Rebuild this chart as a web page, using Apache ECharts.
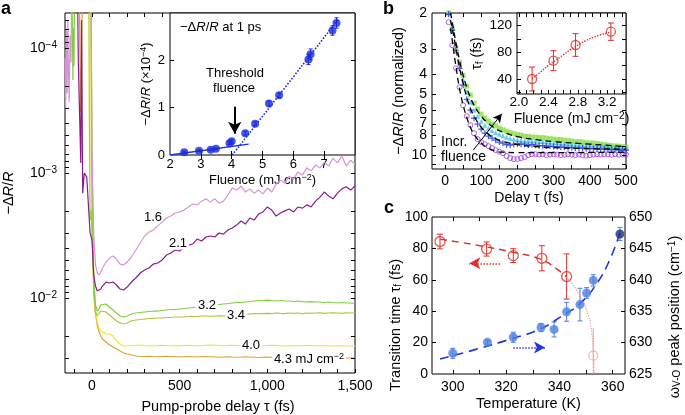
<!DOCTYPE html>
<html lang="en">
<head>
<meta charset="UTF-8">
<title>Ultrafast reflectivity panels</title>
<script src="https://cdn.jsdelivr.net/npm/echarts@6/dist/echarts.min.js"></script>
<style>
    html, body { margin: 0; padding: 0; background: #fff; }
    #chart { width: 685px; height: 415px; }
</style>
</head>
<body>
<div id="chart"></div>
<script type="text/javascript">
var FONT = 'Liberation Sans';

// ---- panel a : -dR/R vs pump-probe delay (fs), one trace per fluence ----
var delayFs = [0, 10, 20, 30, 40, 50, 60, 80, 100, 120, 140, 160, 180, 200,
    225, 250, 275, 300, 325, 350, 375, 400, 425, 450, 475, 500, 525, 550, 575, 600,
    625, 650, 675, 700, 725, 750, 775, 800, 825, 850, 875, 900, 925, 950, 975, 1000,
    1025, 1050, 1075, 1100, 1125, 1150, 1175, 1200, 1225, 1250, 1275, 1300, 1325, 1350,
    1375, 1400, 1425, 1450, 1475, 1500];
var trace16 = [0.00065, 0.00313, 0.00545, 0.00631, 0.00655, 0.00619, 0.00575, 0.00515, 0.00479, 0.00461, 0.00488, 0.00535, 0.00545, 0.00515,
    0.00470, 0.00413, 0.00363, 0.00319, 0.00297, 0.00286, 0.00265, 0.00247, 0.00229, 0.00221, 0.00209, 0.00205, 0.00198, 0.00187, 0.00177, 0.00180,
    0.00168, 0.00161, 0.00171, 0.00161, 0.00174, 0.00168, 0.00150, 0.00132, 0.00137, 0.00127, 0.00142, 0.00134, 0.00145, 0.00137, 0.00147, 0.00132,
    0.00142, 0.00123, 0.00114, 0.00120, 0.00106, 0.00112, 0.00098, 0.00104, 0.00091, 0.00096, 0.00086, 0.00091, 0.00082, 0.00088,
    0.00076, 0.00083, 0.00073, 0.00088, 0.00079, 0.00085];
var trace21 = [0.00344, 0.00655, 0.00802, 0.00879, 0.00895, 0.00847, 0.00802, 0.00745, 0.00759, 0.00745, 0.00787, 0.00847, 0.00863, 0.00817,
    0.00745, 0.00692, 0.00631, 0.00597, 0.00575, 0.00535, 0.00525, 0.00497, 0.00453, 0.00437, 0.00413, 0.00421, 0.00391, 0.00377, 0.00370, 0.00337,
    0.00350, 0.00325, 0.00319, 0.00325, 0.00302, 0.00308, 0.00286, 0.00275, 0.00261, 0.00242, 0.00256, 0.00229, 0.00238, 0.00213, 0.00205, 0.00187,
    0.00198, 0.00221, 0.00209, 0.00201, 0.00194, 0.00205, 0.00187, 0.00191, 0.00180, 0.00187, 0.00168, 0.00156, 0.00142, 0.00153,
    0.00161, 0.00145, 0.00134, 0.00129, 0.00137, 0.00127];
var trace32 = [0.00114, 0.00718, 0.01138, 0.01271, 0.01225, 0.01138, 0.01117, 0.01117, 0.01180, 0.01247, 0.01318, 0.01393, 0.01419, 0.01393,
    0.01343, 0.01318, 0.01306, 0.01294, 0.01282, 0.01271, 0.01271, 0.01259, 0.01247, 0.01236, 0.01236, 0.01225, 0.01213, 0.01202, 0.01191, 0.01180,
    0.01170, 0.01159, 0.01148, 0.01138, 0.01127, 0.01117, 0.01107, 0.01096, 0.01086, 0.01086, 0.01076, 0.01067, 0.01057, 0.01047, 0.01047, 0.01038,
    0.01047, 0.01057, 0.01047, 0.01057, 0.01057, 0.01067, 0.01057, 0.01067, 0.01076, 0.01067, 0.01076, 0.01076, 0.01086, 0.01076,
    0.01086, 0.01096, 0.01086, 0.01096, 0.01096, 0.01107];
var trace34 = [0.0028, 0.00787, 0.01294, 0.01393, 0.01343, 0.01271, 0.01247, 0.01294, 0.01368, 0.01445, 0.01528, 0.01585, 0.01614, 0.01585,
    0.01528, 0.01500, 0.01486, 0.01472, 0.01459, 0.01459, 0.01445, 0.01445, 0.01432, 0.01432, 0.01419, 0.01419, 0.01419, 0.01406, 0.01406, 0.01406,
    0.01393, 0.01393, 0.01400, 0.01393, 0.01387, 0.01393, 0.01380, 0.01368, 0.01368, 0.01355, 0.01343, 0.01343, 0.01331, 0.01337, 0.01331, 0.01325,
    0.01331, 0.01318, 0.01325, 0.01331, 0.01318, 0.01325, 0.01318, 0.01331, 0.01318, 0.01325, 0.01318, 0.01312, 0.01325, 0.01318,
    0.01312, 0.01318, 0.01325, 0.01312, 0.01318, 0.01312];
var trace40 = [0.00217, 0.00787, 0.01247, 0.01556, 0.01738, 0.01837, 0.01905, 0.01941, 0.01941, 0.02014, 0.02208, 0.02333, 0.02421, 0.02421,
    0.02399, 0.02399, 0.02377, 0.02399, 0.02410, 0.02421, 0.02399, 0.02388, 0.02399, 0.02410, 0.02421, 0.02410, 0.02399, 0.02388, 0.02399, 0.02410,
    0.02399, 0.02388, 0.02377, 0.02388, 0.02399, 0.02410, 0.02399, 0.02388, 0.02399, 0.02410, 0.02421, 0.02410, 0.02399, 0.02399, 0.02410, 0.02399,
    0.02388, 0.02399, 0.02410, 0.02421, 0.02410, 0.02399, 0.02410, 0.02399, 0.02388, 0.02399, 0.02410, 0.02410, 0.02399, 0.02410,
    0.02421, 0.02410, 0.02410, 0.02421, 0.02410, 0.02410];
var trace43 = [0.00261, 0.00946, 0.01343, 0.01644, 0.01871, 0.02014, 0.02128, 0.02249, 0.02377, 0.02466, 0.02559, 0.02655, 0.02754, 0.02805,
    0.02858, 0.02911, 0.02938, 0.02938, 0.02924, 0.02938, 0.02951, 0.02938, 0.02924, 0.02938, 0.02951, 0.02965, 0.02951, 0.02938, 0.02951, 0.02965,
    0.02951, 0.02938, 0.02951, 0.02965, 0.02978, 0.02965, 0.02951, 0.02965, 0.02978, 0.02965, 0.02951, 0.02965, 0.02978, 0.02992, 0.02978, 0.02965,
    0.02978, 0.02992, 0.02978, 0.02992, 0.03006, 0.02992, 0.02978, 0.02992, 0.03006, 0.02992, 0.03006, 0.03020, 0.03006, 0.02992,
    0.03006, 0.03020, 0.03006, 0.03020, 0.03020, 0.03020];
// noisy part before time zero, [delay, value]
var pre16 = [[-154, 1.2e-4], [-150, 3.0e-4], [-146, 7e-5], [-142, 2.3e-4], [-138, 6e-5], [-134, 1.6e-4], [-130, 2.7e-4], [-125, 8e-5], [-120, 1.3e-4], [-116, 4e-5], [-5, 4e-5]];
var pre21 = [[-154, 4e-5], [-82, 4e-5], [-78, 1.3e-4], [-64, 8.3e-4], [-60, 6e-5], [-53, 1.45e-3], [-44, 1.0e-3], [-30, 1.08e-3], [-11, 3.0e-3]];
var pre32 = [[-154, 4e-5], [-115, 4e-5], [-112, 6.5e-5], [-109, 1.8e-4], [-106, 7e-5], [-103, 1.4e-4], [-100, 4e-5], [-5, 4e-5]];
var pre34 = [[-154, 4e-5], [-18, 4e-5], [-15, 3.7e-4], [-11, 2.4e-3], [-5, 2.0e-3]];
var pre40 = [[-154, 4e-5], [-8, 4e-5], [-5, 6.5e-4], [-2, 1.5e-3]];
var pre43 = [[-154, 4e-5], [-72, 4e-5], [-69, 1.04e-4], [-65, 3.25e-4], [-62, 1.5e-4], [-59, 3.0e-4], [-56, 4e-5], [-5, 4e-5]];

// inset a : -dR/R at 1 ps (x1e-4) vs fluence
var fluenceA = [2.46, 2.94, 3.32, 3.49, 3.93, 4.00, 4.44, 4.76, 5.21, 5.54, 6.49, 6.56, 7.27, 7.40];
var signalA = [0.06, 0.09, 0.11, 0.13, 0.25, 0.29, 0.46, 0.66, 1.09, 1.26, 2.02, 2.13, 2.63, 2.79];
var signalErrA = [0.02, 0.02, 0.02, 0.02, 0.03, 0.03, 0.04, 0.04, 0.05, 0.05, 0.11, 0.11, 0.10, 0.11];
var belowFitA = [[2.0, 0.0], [4.55, 0.23]];
var aboveFitA = [[4.02, 0.0], [7.45, 2.86]];

// ---- panel b : normalized traces ----
var bDelay = [10, 20, 30, 40, 50, 60, 70, 80, 90, 100, 110, 120, 130, 140, 150, 160, 170, 180, 190, 200,
    210, 220, 230, 240, 250, 260, 270, 280, 290, 300, 310, 320, 330, 340, 350, 360, 370, 380, 390, 400,
    410, 420, 430, 440, 450, 460, 470, 480, 490, 500];
var bViolet = [2.22, 2.88, 3.74, 4.64, 5.68, 6.43, 7.12, 7.80, 8.34, 8.63, 8.83, 9.03, 9.24, 9.45, 9.61, 9.78, 10.11, 10.34, 10.46, 10.46,
    10.34, 10.23, 10.0, 9.89, 9.89, 9.94, 9.89, 10.0, 9.94, 9.89, 9.94, 10.0, 9.94, 9.89, 9.94, 10.0, 9.94, 10.0, 10.06, 10.0,
    9.94, 9.89, 9.94, 9.89, 9.89, 9.94, 9.89, 9.94, 9.94, 9.94];
var bBlue = [2.03, 2.43, 3.05, 3.74, 4.53, 5.31, 6.01, 6.58, 7.04, 7.45, 7.80, 8.07, 8.25, 8.44, 8.63, 8.73, 8.88, 8.93, 8.83, 8.78,
    8.83, 8.83, 8.93, 8.88, 8.93, 8.98, 8.98, 9.03, 9.03, 9.08, 9.08, 9.13, 9.13, 9.19, 9.19, 9.24, 9.24, 9.24, 9.29, 9.29,
    9.29, 9.34, 9.34, 9.34, 9.40, 9.40, 9.40, 9.45, 9.45, 9.45];
var bCyan = [2.0, 2.35, 2.88, 3.53, 4.23, 4.90, 5.49, 6.01, 6.43, 6.81, 7.12, 7.37, 7.58, 7.75, 7.89, 8.02, 8.16, 8.25, 8.34, 8.39,
    8.44, 8.49, 8.49, 8.53, 8.53, 8.58, 8.58, 8.63, 8.63, 8.68, 8.68, 8.73, 8.73, 8.78, 8.83, 8.83, 8.88, 8.88, 8.93, 8.93,
    8.98, 8.98, 9.03, 9.03, 9.08, 9.13, 9.13, 9.19, 9.19, 9.24];
var bGreen = [2.0, 2.38, 2.95, 3.49, 4.05, 4.58, 5.07, 5.55, 5.94, 6.29, 6.58, 6.81, 7.04, 7.20, 7.37, 7.49, 7.62, 7.75, 7.84, 7.93,
    7.98, 8.07, 8.11, 8.16, 8.16, 8.20, 8.20, 8.25, 8.30, 8.34, 8.39, 8.39, 8.44, 8.49, 8.53, 8.58, 8.58, 8.63, 8.68, 8.73,
    8.73, 8.78, 8.83, 8.88, 8.93, 8.98, 9.03, 9.03, 9.08, 9.13];
var bFitDelay = [15, 20, 30, 40, 50, 60, 70, 80, 100, 120, 140, 160, 200, 250, 300, 400, 500];
var bFitHigh = [2.38, 2.72, 3.65, 4.69, 5.68, 6.51, 7.29, 7.89, 8.73, 9.24, 9.56, 9.67, 9.72, 9.72, 9.72, 9.70, 9.67];
var bFitMid = [2.17, 2.38, 2.98, 3.70, 4.43, 5.19, 5.88, 6.43, 7.29, 7.89, 8.30, 8.58, 8.88, 9.08, 9.19, 9.29, 9.34];
var bFitLow = [1.99, 2.22, 2.79, 3.42, 4.05, 4.64, 5.19, 5.68, 6.43, 7.00, 7.41, 7.71, 8.11, 8.39, 8.58, 8.83, 9.08];

// inset b : transition time vs fluence
var fluenceB = [2.18, 2.47, 2.77, 3.25];
var tauB = [40, 67.5, 91, 111];
var tauErrB = [18, 15, 17, 13];
var fitFluenceB = [2.18, 2.3, 2.4, 2.5, 2.6, 2.7, 2.8, 2.9, 3.0, 3.1, 3.2, 3.25];
var fitTauB = [40, 51, 60, 68, 76, 84, 91, 97, 102, 106, 109, 111];

// ---- panel c : transition time and V-O peak vs temperature ----
var tempTau = [295.2, 312.7, 322.7, 333.4, 342.7];
var tauC = [84.4, 79.6, 75.4, 73.7, 62.1];
var tauErrC = [4.7, 4.5, 4.4, 8.0, 14.4];
var tempTauHot = [352.7];
var tauHot = [11.7];
var tauHotLow = [0];
var tauHotHigh = [29.3];
var tempOmega = [300, 313, 322.7, 333.1, 338, 342.7, 347.7, 350.2, 352.7, 362.7];
var omegaC = [628.3, 630.05, 630.85, 632.4, 632.1, 634.9, 636.05, 637.9, 639.9, 647.3];
var omegaErrC = [0.8, 0.3, 0.8, 0.65, 1.2, 1.5, 2.6, 0.85, 0.9, 1.05];
var fitTauT = [295.2, 310.2, 322.7, 332.7, 339, 342.7];
var fitTau = [85.9, 81.7, 77.5, 73.3, 67, 61.7];
var tailTauT = [342.7, 346.5, 350.2, 352.1, 352.7, 353];
var tailTau = [61.7, 53.3, 40.6, 26.9, 12.2, 0];
var fitOmegaT = [295.2, 307.7, 322.7, 332.7, 341.5, 347.7, 354, 359, 362.7];
var fitOmega = [627.4, 628.8, 630.7, 632.15, 634.4, 636.2, 639.4, 643.3, 647.5];

// tick positions on the log axes
var logTicksA = [6e-5, 7e-5, 8e-5, 9e-5, 1e-4, 2e-4, 3e-4, 4e-4, 5e-4, 6e-4, 7e-4, 8e-4, 9e-4,
    1e-3, 2e-3, 3e-3, 4e-3, 5e-3, 6e-3, 7e-3, 8e-3, 9e-3, 1e-2, 2e-2, 3e-2];
var logTicksB = [3, 4, 5, 6, 7, 8, 9, 10, 11];

function range(a, b, step) {
    var out = [];
    for (var v = a; v <= b + 1e-9; v += step) out.push(Math.round(v * 1000) / 1000);
    return out;
}
function zip(xs, ys) {
    return xs.map(function (x, i) { return [x, ys[i]]; });
}

function richFor(fs) {
    var small = Math.round(fs * 0.72);
    return {
        i: {fontStyle: 'italic', fontSize: fs, fontFamily: FONT, color: '#000'},
        sup: {fontSize: small, lineHeight: small, verticalAlign: 'top', fontFamily: FONT, color: '#000'},
        sub: {fontSize: small, lineHeight: small, verticalAlign: 'bottom', fontFamily: FONT, color: '#000'}
    };
}

function grid(l, t, w, h, bg) {
    return {left: l, top: t, width: w, height: h, show: true, borderColor: '#000', borderWidth: 1,
        backgroundColor: bg || 'transparent', containLabel: false, outerBoundsMode: 'none'};
}

function axis(o) {
    var fs = o.fs || 14;
    var nfs = o.nfs || fs;
    var a = {
        type: o.type || 'value',
        gridIndex: o.grid,
        position: o.pos,
        min: o.min,
        max: o.max,
        inverse: !!o.inverse,
        silent: true,
        axisLine: {show: false},
        splitLine: {show: false},
        axisTick: {show: !!o.ticks, inside: true, length: 4, customValues: o.ticks || [], lineStyle: {color: '#000', width: 1}},
        axisLabel: {show: !!o.labels, customValues: o.labels || [], color: '#000', fontFamily: FONT, fontSize: fs,
            lineHeight: fs + 2, margin: o.margin == null ? 5 : o.margin, formatter: o.fmt, rich: richFor(fs)}
    };
    if (o.type === 'log') a.logBase = 10;
    if (o.name) {
        a.name = o.name;
        a.nameLocation = 'middle';
        a.nameGap = o.gap;
        if (o.rotate) a.nameRotate = o.rotate;
        a.nameTextStyle = {color: '#000', fontFamily: FONT, fontSize: nfs, lineHeight: nfs + 2,
            rich: richFor(nfs), padding: o.namePad || 0};
    }
    return a;
}

// short inward tick marks on a log axis, placed through the axis scale
function logTickMarks(xi, yi, xEdge, values, dir) {
    return {
        type: 'custom', xAxisIndex: xi, yAxisIndex: yi, silent: true, clip: false, z: 5,
        data: values.map(function (v) { return [xEdge, v]; }),
        renderItem: function (params, api) {
            var p = api.coord([api.value(0), api.value(1)]);
            var x = Math.round(p[0]), y = Math.round(p[1]) + 0.5;
            return {type: 'line', shape: {x1: x, y1: y, x2: x + dir * 4, y2: y}, style: {stroke: '#000', lineWidth: 1}};
        }
    };
}

function errorBars(xi, yi, xs, lows, highs, color, cap) {
    return {
        type: 'custom', xAxisIndex: xi, yAxisIndex: yi, silent: true, clip: true, z: 3,
        data: xs.map(function (x, i) { return [x, lows[i], highs[i]]; }),
        encode: {x: 0, y: [1, 2]},
        renderItem: function (params, api) {
            var lo = api.coord([api.value(0), api.value(1)]);
            var hi = api.coord([api.value(0), api.value(2)]);
            var st = {stroke: color, lineWidth: 1};
            return {type: 'group', children: [
                {type: 'line', shape: {x1: lo[0], y1: lo[1], x2: hi[0], y2: hi[1]}, style: st},
                {type: 'line', shape: {x1: lo[0] - cap, y1: lo[1], x2: lo[0] + cap, y2: lo[1]}, style: st},
                {type: 'line', shape: {x1: hi[0] - cap, y1: hi[1], x2: hi[0] + cap, y2: hi[1]}, style: st}
            ]};
        }
    };
}
function symErr(xs, ys, errs, color, cap, xi, yi) {
    return errorBars(xi, yi, xs,
        ys.map(function (y, i) { return y - errs[i]; }),
        ys.map(function (y, i) { return y + errs[i]; }), color, cap);
}

function trace(pre, vals, color) {
    return {
        type: 'line', xAxisIndex: 0, yAxisIndex: 0, silent: true, clip: true,
        showSymbol: false, symbol: 'none',
        data: pre.concat(zip(delayFs, vals)),
        lineStyle: {color: color, width: 1.2}
    };
}

function markers(vals, symbol, size, color, filled) {
    return {
        type: 'scatter', xAxisIndex: 4, yAxisIndex: 4, silent: true, clip: true,
        symbol: symbol, symbolSize: size,
        data: zip(bDelay, vals),
        itemStyle: filled ? {color: color} : {color: 'transparent', borderColor: color, borderWidth: 1}
    };
}

function fitLine(xi, yi, data, color, type, width) {
    return {
        type: 'line', xAxisIndex: xi, yAxisIndex: yi, silent: true, clip: true,
        showSymbol: false, symbol: 'none', smooth: true, data: data,
        lineStyle: {color: color, width: width || 1.2, type: type}
    };
}

function arrowLine(from, to, color, width, type, size) {
    return {
        silent: true, symbol: ['none', 'arrow'], symbolSize: size, label: {show: false},
        lineStyle: {color: color, width: width, type: type},
        data: [[{coord: from}, {coord: to}]]
    };
}

function text(x, y, str, fs, opts) {
    opts = opts || {};
    return {
        type: 'text', x: x, y: y, z: 100, silent: true, rotation: opts.rotation || 0,
        style: {
            text: str, fill: '#000', fontFamily: FONT, fontSize: fs, fontWeight: opts.bold ? 'bold' : 'normal',
            align: opts.align || 'left', textAlign: opts.align || 'left',
            verticalAlign: 'middle', textVerticalAlign: 'middle',
            backgroundColor: opts.bg, padding: opts.bg ? [0, 2] : 0,
            rich: richFor(fs)
        }
    };
}

var chart = echarts.init(document.getElementById('chart'));

var pinkA = '#d795d5', purpleA = '#8a1c88', green32 = '#7fcf3b', green34 = '#a9c93a',
    yellow40 = '#efe52c', orange43 = '#dea232', blueA = '#1a2be0';
var red = '#dd3029', redFaint = '#f2a3a3', blueC = '#4d7fe3', navy = '#1a2d80', blueFit = '#2035d8';

var bScatterViolet = markers(bViolet, 'circle', 5, '#9a3be0', false);
bScatterViolet.markLine = arrowLine([78, 9.45], [157, 6.25], '#000', 1, 'solid', [7, 9]);

var insetPoints = {
    type: 'scatter', xAxisIndex: 2, yAxisIndex: 2, silent: true, symbol: 'circle', symbolSize: 8,
    data: zip(fluenceA, signalA), itemStyle: {color: blueA}, z: 4,
    markLine: arrowLine([4.1, 1.02], [4.1, 0.45], '#000', 2, 'solid', [10, 12])
};

var tauPoints = {
    type: 'scatter', xAxisIndex: 8, yAxisIndex: 8, silent: true, symbol: 'circle', symbolSize: 10, z: 4,
    data: zip(tempTau, tauC), itemStyle: {color: 'transparent', borderColor: red, borderWidth: 1.3},
    markLine: arrowLine([317.7, 70.5], [306.2, 70.5], red, 1.5, 'dotted', [9, 11])
};
var omegaPoints = {
    type: 'scatter', xAxisIndex: 8, yAxisIndex: 9, silent: true, symbol: 'circle', symbolSize: 9, z: 4,
    data: zip(tempOmega, omegaC),
    itemStyle: {color: function (p) { return p.dataIndex === tempOmega.length - 1 ? navy : blueC; }},
    markLine: arrowLine([322.7, 629.2], [334.6, 629.2], blueFit, 1.5, 'dotted', [9, 11])
};

var option = {
    animation: false,
    backgroundColor: '#fff',
    textStyle: {fontFamily: FONT, color: '#000'},
    grid: [
        grid(65, 13, 290, 360),
        grid(170, 13, 185, 142, '#fff'),
        grid(432, 13, 194, 156),
        grid(517, 13, 109, 81, '#fff'),
        grid(432, 217, 193, 157)
    ],
    xAxis: [
        axis({grid: 0, pos: 'bottom', min: -154, max: 1500, ticks: range(-100, 1500, 100), labels: [0, 500, 1000, 1500],
            margin: 5, fmt: function (v) { return v.toLocaleString('en-US'); }, nfs: 14.5,
            name: 'Pump-probe delay τ (fs)', gap: 25, namePad: [0, 0, 0, 16]}),
        axis({grid: 0, pos: 'top', min: -154, max: 1500, ticks: range(-100, 400, 100)}),
        axis({grid: 1, pos: 'bottom', min: 2, max: 8, ticks: range(3, 7, 1), labels: range(2, 7, 1), fs: 13, margin: 2,
            name: 'Fluence (mJ cm{sup|−2})', gap: 14}),
        axis({grid: 1, pos: 'top', min: 2, max: 8, ticks: range(3, 7, 1)}),
        axis({grid: 2, pos: 'bottom', min: -36, max: 500, ticks: range(0, 500, 50), labels: range(0, 500, 100), margin: 4,
            name: 'Delay τ (fs)', gap: 20}),
        axis({grid: 2, pos: 'top', min: -36, max: 500, ticks: range(0, 150, 50)}),
        axis({grid: 3, pos: 'bottom', min: 1.975, max: 3.455, ticks: range(2.0, 3.4, 0.1), labels: [2.0, 2.4, 2.8, 3.2],
            fs: 13.5, margin: 1, fmt: function (v) { return v.toFixed(1); }, nfs: 14,
            name: 'Fluence (mJ cm{sup|−2})', gap: 15}),
        axis({grid: 3, pos: 'top', min: 1.975, max: 3.455, ticks: range(2.0, 3.4, 0.1)}),
        axis({grid: 4, pos: 'bottom', min: 292.2, max: 364.6, ticks: range(300, 360, 10), labels: [300, 320, 340, 360],
            margin: 5, nfs: 14.5, name: 'Temperature (K)', gap: 22}),
        axis({grid: 4, pos: 'top', min: 292.2, max: 364.6, ticks: range(300, 360, 10)})
    ],
    yAxis: [
        axis({grid: 0, pos: 'left', type: 'log', min: 5.25e-5, max: 0.0398, inverse: true,
            labels: [1e-4, 1e-3, 1e-2], margin: 8, nfs: 14.5,
            fmt: function (v) { return '10{sup|−' + Math.round(-Math.log10(v)) + '}'; },
            name: '−Δ{i|R}/{i|R}', gap: 48, rotate: 90}),
        axis({grid: 0, pos: 'right', type: 'log', min: 5.25e-5, max: 0.0398, inverse: true}),
        axis({grid: 1, pos: 'left', min: 0, max: 3, ticks: [1, 2], labels: [0, 1, 2], fs: 13, margin: 5,
            name: '−Δ{i|R}/{i|R} (×10{sup|−4})', gap: 14, rotate: 90}),
        axis({grid: 1, pos: 'right', min: 0, max: 3, ticks: [1, 2]}),
        axis({grid: 2, pos: 'left', type: 'log', min: 2, max: 11.7, inverse: true,
            labels: [2, 3, 4, 5, 6, 7, 8, 10], margin: 5, nfs: 14.5,
            name: '−Δ{i|R}/{i|R} (normalized)', gap: 24, rotate: 90}),
        axis({grid: 2, pos: 'right', type: 'log', min: 2, max: 11.7, inverse: true}),
        axis({grid: 3, pos: 'left', min: 17.5, max: 139, ticks: range(20, 120, 20), labels: [40, 80, 120], fs: 13.5, margin: 5,
            nfs: 14, name: 'τ{sub|f} (fs)', gap: 20, rotate: 90}),
        axis({grid: 3, pos: 'right', min: 17.5, max: 139, ticks: range(20, 120, 20)}),
        axis({grid: 4, pos: 'left', min: 0, max: 100, ticks: range(20, 80, 20), labels: range(0, 100, 20), margin: 4}),
        axis({grid: 4, pos: 'right', min: 625, max: 650, ticks: range(630, 645, 5), labels: range(625, 650, 5), margin: 4})
    ],
    series: [
        // panel a
        trace(pre43, trace43, orange43),
        trace(pre40, trace40, yellow40),
        trace(pre34, trace34, green34),
        trace(pre32, trace32, green32),
        trace(pre21, trace21, purpleA),
        trace(pre16, trace16, pinkA),
        logTickMarks(0, 0, -154, logTicksA, 1),
        logTickMarks(0, 0, 1500, logTicksA.filter(function (v) { return v >= 1e-3; }), -1),
        // inset a
        fitLine(2, 2, belowFitA, blueA, 'solid', 1.3),
        fitLine(2, 2, aboveFitA, blueA, 'dotted', 1.6),
        symErr(fluenceA, signalA, signalErrA, blueA, 2, 2, 2),
        insetPoints,
        // panel b
        markers(bGreen, 'rect', 5, '#8ede4c', true),
        markers(bCyan, 'triangle', 5, '#45c4e0', true),
        markers(bBlue, 'path://M4,0H6V4H10V6H6V10H4V6H0V4H4Z', 6, '#1d35d8', true),
        bScatterViolet,
        fitLine(4, 4, zip(bFitDelay, bFitLow), '#000', [6, 4], 1.3),
        fitLine(4, 4, zip(bFitDelay, bFitMid), '#000', [6, 4], 1.3),
        fitLine(4, 4, zip(bFitDelay, bFitHigh), '#000', [6, 4], 1.3),
        logTickMarks(4, 4, -36, logTicksB, 1),
        logTickMarks(4, 4, 500, logTicksB.filter(function (v) { return v >= 6; }), -1),
        // inset b
        fitLine(6, 6, zip(fitFluenceB, fitTauB), red, 'dotted', 1.4),
        symErr(fluenceB, tauB, tauErrB, red, 3, 6, 6),
        {type: 'scatter', xAxisIndex: 6, yAxisIndex: 6, silent: true, symbol: 'circle', symbolSize: 9, z: 4,
            data: zip(fluenceB, tauB), itemStyle: {color: 'transparent', borderColor: red, borderWidth: 1.3}},
        // panel c
        fitLine(8, 8, zip(fitTauT, fitTau), red, [7, 5], 1.4),
        fitLine(8, 8, zip(tailTauT, tailTau), redFaint, 'dotted', 1.3),
        symErr(tempTau, tauC, tauErrC, red, 3, 8, 8),
        errorBars(8, 8, tempTauHot, tauHotLow, tauHotHigh, redFaint, 0),
        tauPoints,
        {type: 'scatter', xAxisIndex: 8, yAxisIndex: 8, silent: true, symbol: 'circle', symbolSize: 9, z: 4,
            data: zip(tempTauHot, tauHot), itemStyle: {color: 'transparent', borderColor: redFaint, borderWidth: 1.2}},
        fitLine(8, 9, zip(fitOmegaT, fitOmega), blueFit, [9, 6], 1.6),
        symErr(tempOmega, omegaC, omegaErrC, blueC, 2.5, 8, 9),
        omegaPoints
    ],
    graphic: [
        text(1, 9, 'a', 18, {bold: true}),
        text(383, 9, 'b', 18, {bold: true}),
        text(384, 208, 'c', 18, {bold: true}),
        text(180, 27, '−Δ{i|R}/{i|R} at 1 ps', 13),
        text(235, 73, 'Threshold', 13, {align: 'center'}),
        text(234, 88, 'fluence', 13, {align: 'center'}),
        text(153, 217, '1.6', 13, {align: 'center'}),
        text(178, 243, '2.1', 13, {align: 'center', bg: '#fff'}),
        text(207, 305, '3.2', 13, {align: 'center', bg: '#fff'}),
        text(236, 315, '3.4', 13, {align: 'center', bg: '#fff'}),
        text(251, 345, '4.0', 13, {align: 'center', bg: '#fff'}),
        text(309, 359, '4.3 mJ cm{sup|−2}', 13, {align: 'center', bg: '#fff'}),
        text(441, 142, 'Incr.', 14),
        text(441, 157, 'fluence', 14),
        text(396, 325, 'Transition time τ{sub|f} (fs)', 14.5, {align: 'center', rotation: Math.PI / 2}),
        text(675, 317, 'ω{sub|V-O} peak position (cm{sup|−1})', 14.5, {align: 'center', rotation: Math.PI / 2})
    ]
};

chart.setOption(option);
</script>
</body>
</html>
